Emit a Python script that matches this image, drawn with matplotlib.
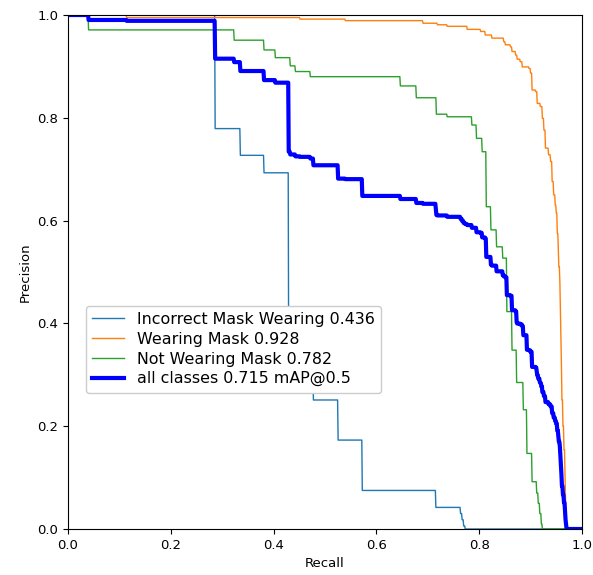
import numpy as np
import matplotlib.pyplot as plt

# precision-recall steps: p[i] holds from r[i] up to r[i+1]
names = ['Incorrect Mask Wearing', 'Wearing Mask', 'Not Wearing Mask']
ap50 = [0.436, 0.928, 0.782]
map50 = 0.715

r_inc = [0.0, 0.286, 0.335, 0.381, 0.429, 0.477, 0.525, 0.572, 0.715, 0.763, 0.766, 0.769, 0.772]
p_inc = [1.0, 0.779, 0.727, 0.693, 0.29, 0.251, 0.173, 0.075, 0.042, 0.030, 0.018, 0.006, 0.0]

r_wm = [0.0, 0.114, 0.451, 0.539, 0.690, 0.718, 0.737, 0.776, 0.802, 0.811, 0.824, 0.847,
        0.850, 0.860, 0.863, 0.870, 0.873, 0.879, 0.883, 0.896, 0.899, 0.902, 0.909, 0.912,
        0.918, 0.922, 0.925, 0.928, 0.934, 0.938, 0.941, 0.944, 0.947, 0.949, 0.951, 0.953,
        0.954, 0.956, 0.957, 0.958, 0.959, 0.960, 0.962, 0.964, 0.966, 0.967, 0.968, 0.969]
p_wm = [1.0, 0.995, 0.992, 0.989, 0.984, 0.981, 0.978, 0.972, 0.968, 0.961, 0.955, 0.948,
        0.942, 0.938, 0.929, 0.922, 0.914, 0.909, 0.899, 0.896, 0.887, 0.854, 0.851, 0.828,
        0.822, 0.799, 0.776, 0.741, 0.728, 0.715, 0.676, 0.650, 0.630, 0.615, 0.575, 0.540,
        0.510, 0.480, 0.430, 0.381, 0.320, 0.251, 0.200, 0.154, 0.100, 0.056, 0.025, 0.0]

r_nw = [0.0, 0.040, 0.323, 0.381, 0.403, 0.432, 0.442, 0.471, 0.646, 0.677, 0.716, 0.737,
        0.785, 0.794, 0.805, 0.813, 0.822, 0.833, 0.845, 0.853, 0.863, 0.872, 0.885, 0.892,
        0.902, 0.911, 0.914, 0.917, 0.920, 0.922]
p_nw = [1.0, 0.971, 0.951, 0.932, 0.917, 0.901, 0.890, 0.880, 0.862, 0.839, 0.807, 0.802,
        0.786, 0.760, 0.734, 0.627, 0.582, 0.549, 0.527, 0.423, 0.348, 0.285, 0.232, 0.147,
        0.092, 0.070, 0.050, 0.030, 0.010, 0.0]


def on_grid(r, p, px):
    idx = np.searchsorted(r, px, side='right') - 1
    return np.asarray(p)[idx]


px = np.linspace(0, 1, 1000)
curves = [on_grid(r_inc, p_inc, px), on_grid(r_wm, p_wm, px), on_grid(r_nw, p_nw, px)]
py = np.stack(curves, axis=1)

fig = plt.figure(figsize=(5.93, 5.75), dpi=100)
ax = fig.add_axes([68 / 593, 46 / 575, 514 / 593, 514 / 575])

for i, name in enumerate(names):
    ax.plot(px, py[:, i], linewidth=1, label=f'{name} {ap50[i]:.3f}')
ax.plot(px, py.mean(1), linewidth=3, color='blue', label=f'all classes {map50:.3f} mAP@0.5')

ax.set_xlabel('Recall', fontsize=9.5)
ax.set_ylabel('Precision', fontsize=9.5)
ax.tick_params(labelsize=9.5)
ax.set_xlim(0, 1)
ax.set_ylim(0, 1)
ax.legend(loc='lower left', bbox_to_anchor=(0.035, 0.265), borderaxespad=0, framealpha=1,
          fontsize=11.4, labelspacing=0.3)

fig.savefig('out.png', dpi=100)
